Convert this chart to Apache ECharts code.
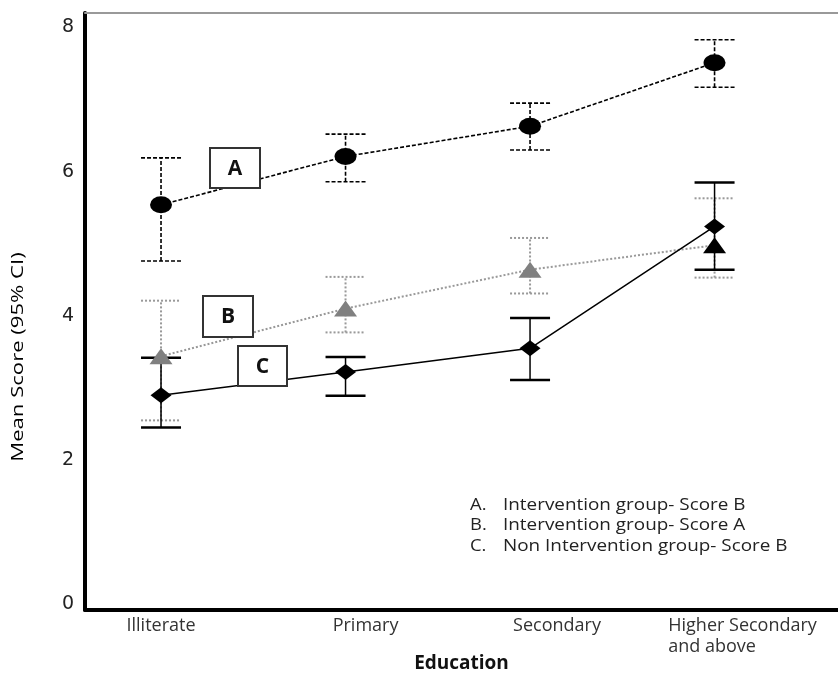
<!DOCTYPE html>
<html><head><meta charset="utf-8">
<script src="https://cdn.jsdelivr.net/npm/echarts@6/dist/echarts.min.js"></script>
<style>html,body{margin:0;padding:0;background:#fff}#c{width:838px;height:679px}</style>
</head><body><div id="c"></div>
<script>
// ---- data ----
const categories = ['Illiterate', 'Primary', 'Secondary', 'Higher Secondary\nand above'];
const yTicks = [0, 2, 4, 6, 8];
// A. Intervention group - Score B
const meanA = [5.54, 6.21, 6.63, 7.51];
const lowA  = [4.76, 5.86, 6.30, 7.17];
const highA = [6.19, 6.52, 6.95, 7.83];
// B. Intervention group - Score A
const meanB = [3.44, 4.10, 4.64, 4.98];
const lowB  = [2.55, 3.77, 4.31, 4.53];
const highB = [4.21, 4.54, 5.08, 5.63];
// C. Non Intervention group - Score B
const meanC = [2.90, 3.22, 3.55, 5.24];
const lowC  = [2.45, 2.89, 3.11, 4.64];
const highC = [3.42, 3.43, 3.97, 5.85];
const legendKeys = ['A.', 'B.', 'C.'];
const legendNames = ['Intervention group- Score B', 'Intervention group- Score A', 'Non Intervention group- Score B'];

// ---- chart ----
const chart = echarts.init(document.getElementById('c'));

function errSeries(lows, highs, barStyle, capStyle) {
  return {
    type: 'custom', z: 3, silent: true, animation: false,
    data: lows.map((l, i) => [i, l, highs[i]]),
    encode: { x: 0, y: [1, 2] },
    renderItem: (params, api) => {
      const x = api.value(0);
      const lo = api.coord([x, api.value(1)]);
      const hi = api.coord([x, api.value(2)]);
      const hw = 20;
      return {
        type: 'group', children: [
          { type: 'line', shape: { x1: lo[0], y1: lo[1], x2: hi[0], y2: hi[1] }, style: barStyle },
          { type: 'line', shape: { x1: lo[0] - hw, y1: lo[1], x2: lo[0] + hw, y2: lo[1] }, style: capStyle },
          { type: 'line', shape: { x1: hi[0] - hw, y1: hi[1], x2: hi[0] + hw, y2: hi[1] }, style: capStyle }
        ]
      };
    }
  };
}

const pts = arr => arr.map((v, i) => [i, v]);
const dataB = pts(meanB).map((p, i) => i === 3 ? { value: p, itemStyle: { color: '#000' } } : p);

function box(x, y, w, h, letter) {
  return {
    type: 'group', z: 100, children: [
      { type: 'rect', z: 100, shape: { x: x, y: y, width: w, height: h }, style: { fill: '#fff', stroke: '#333', lineWidth: 2 } },
      { type: 'text', z: 101, x: x + w / 2, y: y + h / 2 + 1, style: { text: letter, font: 'bold 21px "Open Sans", sans-serif', fill: '#111', align: 'center', verticalAlign: 'middle' } }
    ]
  };
}

const legendGraphics = [];
legendKeys.forEach((k, i) => {
  const y = 505 + i * 20.5;
  legendGraphics.push({ type: 'text', z: 100, x: 470, y: y, scaleX: 1.15, style: { text: k, font: '16px "Open Sans", sans-serif', fill: '#222', verticalAlign: 'middle' } });
  legendGraphics.push({ type: 'text', z: 100, x: 503, y: y, scaleX: 1.18, style: { text: legendNames[i], font: '16px "Open Sans", sans-serif', fill: '#222', verticalAlign: 'middle' } });
});

const labelFont = { fontFamily: 'Open Sans', fontSize: 18, color: '#333', lineHeight: 21 };
const labelShift = [0, 40, 54, 56];
const rich = {};
labelShift.forEach((s, i) => { rich['p' + i] = Object.assign({ align: 'left', padding: [0, 0, 0, s] }, labelFont); });

chart.setOption({
  animation: false,
  backgroundColor: '#fff',
  grid: { left: 85, right: 0, top: 13, bottom: 69, containLabel: false, outerBoundsMode: 'none' },
  xAxis: [{
    type: 'value', min: -0.412, max: 3.669,
    axisLine: { onZero: false, lineStyle: { color: '#000', width: 4 } },
    axisTick: { show: false },
    splitLine: { show: false },
    axisLabel: Object.assign({
      customValues: [0, 1, 2, 3],
      formatter: v => { const i = Math.round(v); return categories[i].split('\n').map(s => '{p' + i + '|' + s + '}').join('\n'); },
      margin: 5, rich: rich
    }, labelFont),
    name: 'Education', nameLocation: 'middle', nameGap: 44, nameMoveOverlap: false,
    nameTextStyle: { fontFamily: 'Open Sans', fontWeight: 'bold', fontSize: 19, color: '#111' }
  }, {
    type: 'value', position: 'top', min: -0.412, max: 3.669,
    axisLine: { onZero: false, lineStyle: { color: '#999', width: 2 } },
    axisTick: { show: false }, axisLabel: { show: false }, splitLine: { show: false }
  }],
  yAxis: {
    type: 'value', min: -0.08, max: 8.2,
    axisLine: { show: true, onZero: false, lineStyle: { color: '#000', width: 4 } },
    axisTick: { show: false },
    splitLine: { show: false },
    axisLabel: {
      customValues: yTicks,
      fontFamily: 'DejaVu Sans', fontSize: 19, color: '#222', margin: 11
    }
  },
  graphic: [
    { type: 'text', z: 100, x: 18, y: 357, rotation: Math.PI / 2, scaleX: 1.3,
      style: { text: 'Mean Score (95% CI)', font: '500 17px "Open Sans", sans-serif', fill: '#000', align: 'center', verticalAlign: 'middle' } },
    box(210, 148, 50, 40, 'A'),
    box(203, 296, 50, 41, 'B'),
    box(238, 346, 49, 40, 'C')
  ].concat(legendGraphics),
  series: [
    errSeries(lowA, highA, { stroke: '#000', lineWidth: 1.6, lineDash: [4, 2] }, { stroke: '#000', lineWidth: 1.6, lineDash: [4, 2] }),
    errSeries(lowB, highB, { stroke: '#999', lineWidth: 2, lineDash: [2, 2] }, { stroke: '#999', lineWidth: 2, lineDash: [2, 2] }),
    errSeries(lowC, highC, { stroke: '#000', lineWidth: 1.5 }, { stroke: '#000', lineWidth: 2.5 }),
    {
      type: 'line', z: 5, data: pts(meanA), symbol: 'circle', symbolSize: [22, 17],
      itemStyle: { color: '#000' }, lineStyle: { color: '#000', width: 1.6, type: [4, 2] }
    },
    {
      type: 'line', z: 5, data: dataB, symbol: 'triangle', symbolSize: [23, 16],
      itemStyle: { color: '#808080' }, lineStyle: { color: '#999', width: 2, type: [2, 2] }
    },
    {
      type: 'line', z: 6, data: pts(meanC), symbol: 'diamond', symbolSize: [21, 16],
      itemStyle: { color: '#000' }, lineStyle: { color: '#000', width: 1.5 }
    }
  ]
});
</script>
</body></html>
